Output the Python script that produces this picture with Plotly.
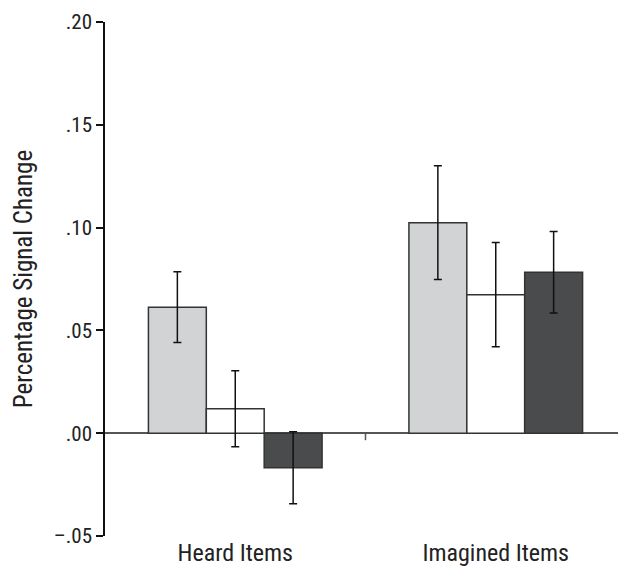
import plotly.graph_objects as go

categories = ["Heard Items", "Imagined Items"]
series_names = ["Condition 1", "Condition 2", "Condition 3"]
values_1 = [0.0613, 0.1024]
values_2 = [0.0119, 0.0674]
values_3 = [-0.0168, 0.0783]
errors_1 = [0.0172, 0.0277]
errors_2 = [0.0185, 0.0254]
errors_3 = [0.0175, 0.0198]
tick_vals = [-0.05, 0.0, 0.05, 0.10, 0.15, 0.20]
tick_text = ["\u2013.05", ".00", ".05", ".10", ".15", ".20"]

fills = ["#d2d3d5", "#ffffff", "#4a4b4d"]
FONT = "Liberation Sans Narrow, Arial Narrow, Roboto Condensed, Liberation Sans, sans-serif"

fig = go.Figure()
for name, vals, errs, col in zip(series_names, [values_1, values_2, values_3],
                                 [errors_1, errors_2, errors_3], fills):
    fig.add_trace(go.Bar(
        x=categories, y=vals, name=name,
        marker=dict(color=col, line=dict(color="#333333", width=1.5)),
        error_y=dict(type="data", array=errs, visible=True,
                     color="#111111", thickness=1.5, width=4),
    ))

fig.update_layout(
    width=618, height=559,
    margin=dict(l=97, r=0, t=14, b=29),
    barmode="group", bargap=1/3, bargroupgap=0,
    showlegend=False,
    plot_bgcolor="white", paper_bgcolor="white",
    font=dict(family=FONT, size=21, color="#222222"),
    xaxis=dict(range=[-0.5, 1.5], showline=False, ticks="", showgrid=False,
               zeroline=False, tickfont=dict(size=24)),
    yaxis=dict(range=[-0.05, 0.20], tickvals=tick_vals, ticktext=tick_text,
               showline=True, linecolor="#111111", linewidth=1.5,
               ticks="outside", ticklen=7, tickwidth=1.5, tickcolor="#111111",
               showgrid=False, zeroline=True, zerolinecolor="#555555",
               zerolinewidth=1.5,
               title=dict(text="Percentage Signal Change", standoff=14,
                          font=dict(size=25))),
)

# small tick mark between the two groups on the zero line
fig.add_shape(type="line", xref="x", yref="y", x0=0.5, x1=0.5,
              ysizemode="pixel", yanchor=0, y0=0, y1=-7,
              line=dict(color="#555555", width=1.5))

fig.write_html("out.html")
